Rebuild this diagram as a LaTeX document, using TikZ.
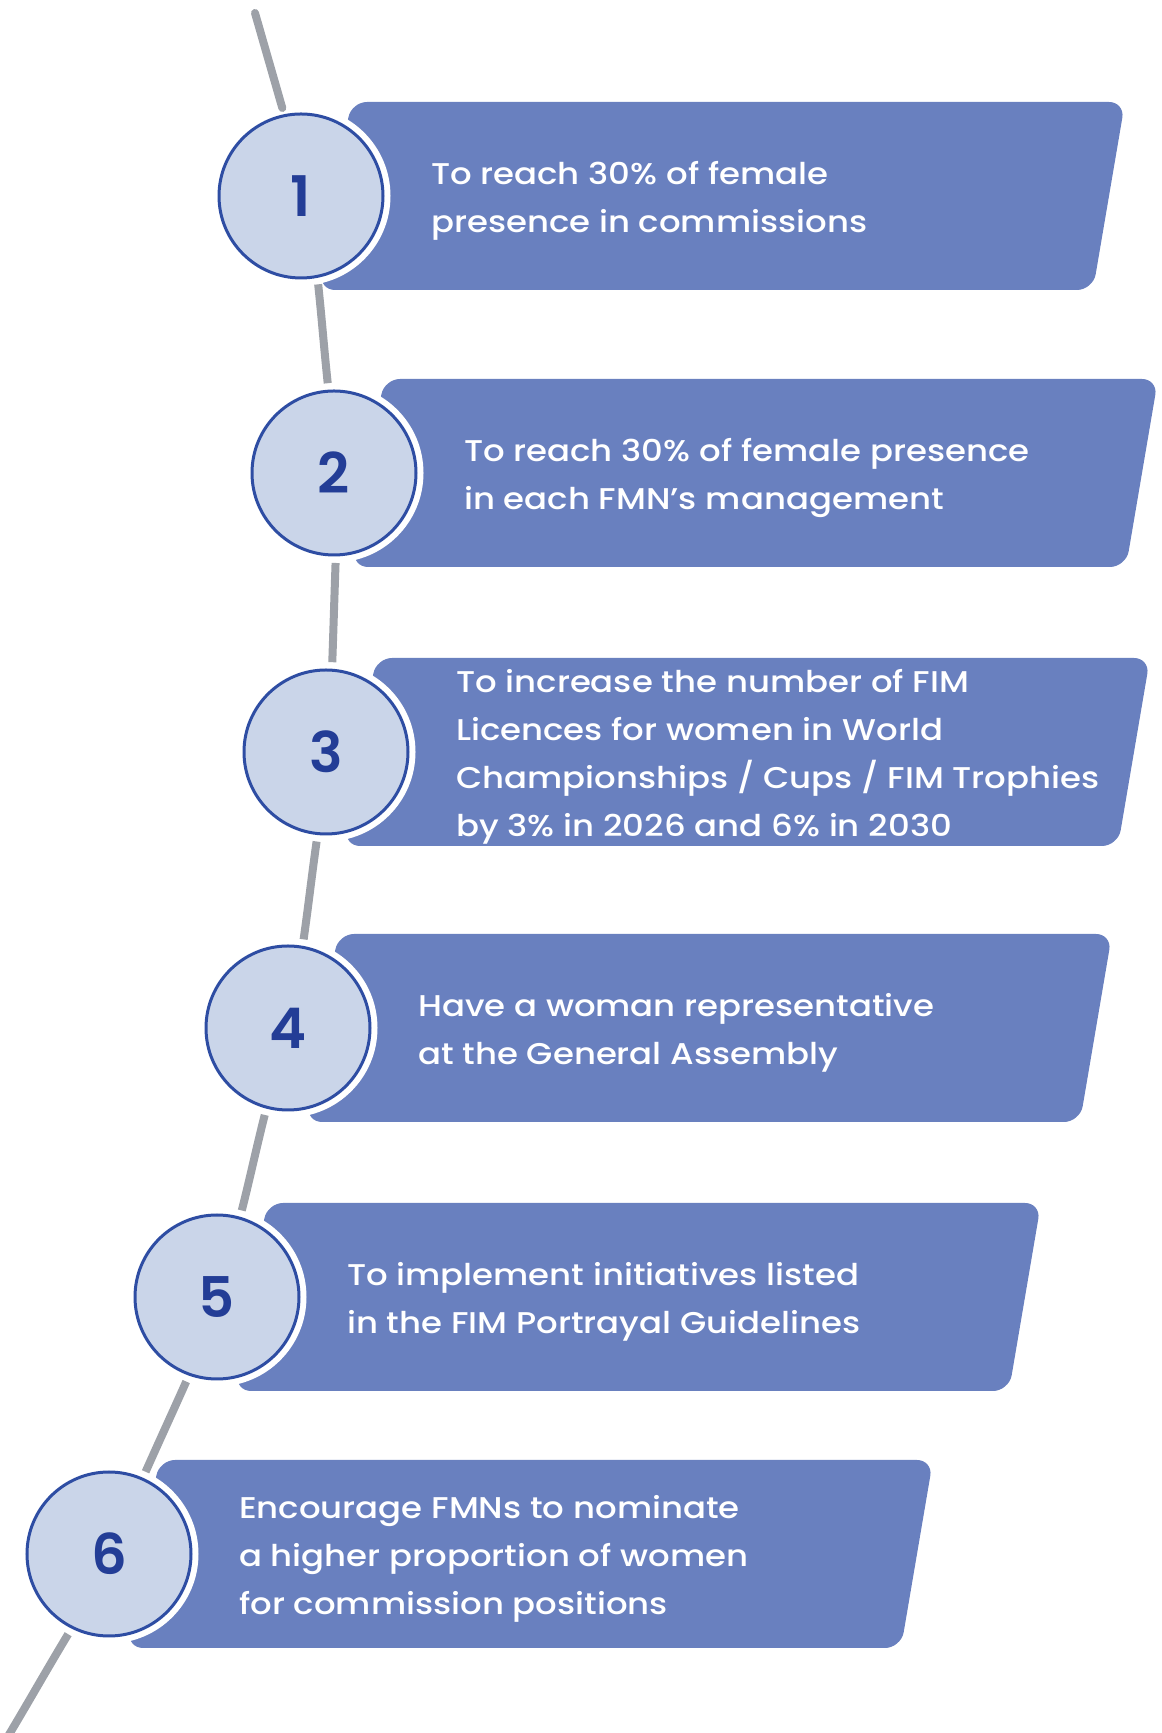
\documentclass[tikz,border=0pt]{standalone}
\usepackage{fontspec}
\setmainfont{Poppins}[UprightFont=* Medium, BoldFont=* SemiBold]
\newfontfamily\widefont{Poppins Medium}[FakeStretch=1.13]
\definecolor{boxblue}{RGB}{105,128,191}
\definecolor{circfill}{RGB}{202,213,233}
\definecolor{circblue}{RGB}{46,77,163}
\definecolor{numblue}{RGB}{35,61,150}
\definecolor{linegray}{RGB}{157,161,168}
\tikzset{
  boxshape/.style={fill=boxblue, rounded corners=16pt},
  numcirc/.style={circle, minimum size=164pt, inner sep=0pt, outer sep=8pt,
    draw=circblue, line width=3pt, fill=circfill, text=numblue,
    font=\fontsize{56}{60}\selectfont\bfseries,
    preaction={draw=white, line width=15pt}},
  steptext/.style={anchor=west, align=left, text=white, inner sep=0pt,
    font=\widefont\fontsize{30}{48}\selectfont},
  conn/.style={draw=linegray, line width=8pt}
}
\newcommand\fimstep[4]{%
  \fill[boxshape] (#2+50,#3+94) -- (#2+824,#3+94) -- (#2+792,#3-94) -- (#2+18,#3-94) -- cycle;
  \node[numcirc] (c#1) at (#2,#3) {#1};
  \node[steptext] (t#1) at (#2+130,#3-5) {#4};
}
\begin{document}
\begin{tikzpicture}[x=1pt,y=1pt]
\useasboundingbox (0,0) rectangle (1162,1733);
\fimstep{1}{301}{1537}{To reach 30\% of female\\presence in commissions}
\fimstep{2}{334}{1260}{To reach 30\% of female presence\\in each FMN’s management}
\fimstep{3}{326}{981}{To increase the number of FIM\\Licences for women in World\\Championships / Cups / FIM Trophies\\by 3\% in 2026 and 6\% in 2030}
\fimstep{4}{288}{705}{Have a woman representative\\at the General Assembly}
\fimstep{5}{217}{436}{To implement initiatives listed\\in the FIM Portrayal Guidelines}
\fimstep{6}{109}{179}{Encourage FMNs to nominate\\a higher proportion of women\\for commission positions}
\coordinate (top) at (255,1720);
\coordinate (bot) at (4,-10);
\draw[conn, line cap=round] (top) to[out=-74, in=106] (c1.102);
\draw[conn] (c1.-79) to[out=-84, in=96] (c2.94);
\draw[conn] (c2.-89) to[out=-92, in=88] (c3.86);
\draw[conn] (c3.-96) to[out=-98, in=82] (c4.80);
\draw[conn] (c4.-105) to[out=-104, in=76] (c5.74);
\draw[conn] (c5.-110) to[out=-114, in=66] (c6.66);
\draw[conn] (c6.-117) to[out=-121, in=59] (bot);
\end{tikzpicture}
\end{document}
